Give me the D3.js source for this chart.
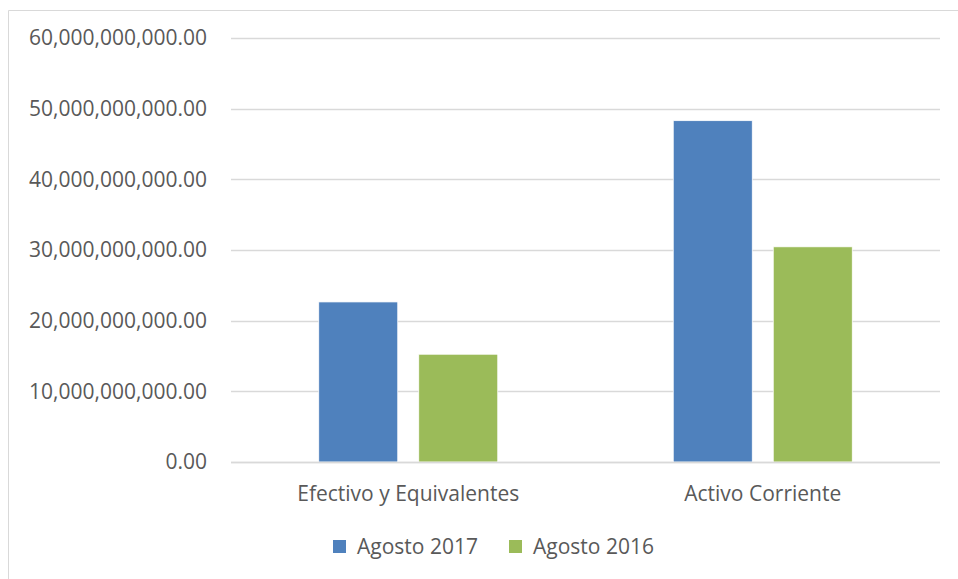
<!DOCTYPE html>
<html>
<head>
<meta charset="utf-8">
<script src="https://cdn.jsdelivr.net/npm/d3@7"></script>
<style>
  body { margin: 0; background: #fff; }
  text { font-family: "Open Sans", sans-serif; fill: #595959; }
</style>
</head>
<body>
<svg id="chart" width="958" height="579"></svg>
<script>
// data
const categories = ["Efectivo y Equivalentes", "Activo Corriente"];
const seriesNames = ["Agosto 2017", "Agosto 2016"];
const agosto2017 = [22650000000, 48300000000];
const agosto2016 = [15250000000, 30450000000];
const yTicks = [0, 10e9, 20e9, 30e9, 40e9, 50e9, 60e9];
const colors = ["#4f81bd", "#9bbb59"];

const svg = d3.select("#chart");

// frame (only top and left edges show)
svg.append("line").attr("x1", 8.5).attr("x2", 958).attr("y1", 10.5).attr("y2", 10.5)
    .attr("stroke", "#d9d9d9");
svg.append("line").attr("x1", 8.5).attr("x2", 8.5).attr("y1", 10.5).attr("y2", 579)
    .attr("stroke", "#d9d9d9");

const margin = { left: 231, right: 940, top: 38, bottom: 462 };

const x = d3.scaleBand()
    .domain(categories)
    .range([margin.left, margin.right]);

const y = d3.scaleLinear()
    .domain([0, 60e9])
    .range([margin.bottom, margin.top]);

const fmt = d3.format(",.2f");
const fontSize = "21px";

// gridlines
svg.append("g").selectAll("line")
    .data(yTicks)
    .enter().append("line")
    .attr("x1", margin.left)
    .attr("x2", margin.right)
    .attr("y1", d => Math.round(y(d)) + 0.5)
    .attr("y2", d => Math.round(y(d)) + 0.5)
    .attr("stroke", "#d9d9d9")
    .attr("stroke-width", 1.5);

// y labels
svg.append("g").selectAll("text")
    .data(yTicks)
    .enter().append("text")
    .attr("x", 207)
    .attr("y", d => y(d))
    .attr("dy", "0.35em")
    .attr("text-anchor", "end")
    .style("font-size", fontSize)
    .text(d => fmt(d));

// bars
const barW = 79, gap = 21;
const series = [agosto2017, agosto2016];
series.forEach((vals, s) => {
    svg.append("g").selectAll("rect")
        .data(vals)
        .enter().append("rect")
        .attr("x", (d, i) => x(categories[i]) + x.bandwidth() / 2 - barW - gap / 2 + s * (barW + gap))
        .attr("y", d => y(d))
        .attr("width", barW)
        .attr("height", d => y(0) - y(d))
        .attr("fill", colors[s])
        .attr("stroke", "#fff")
        .attr("stroke-width", 0.75);
});

// baseline on top
svg.append("line")
    .attr("x1", margin.left).attr("x2", margin.right)
    .attr("y1", y(0) + 0.5).attr("y2", y(0) + 0.5)
    .attr("stroke", "#d9d9d9").attr("stroke-width", 1.5);

// category labels
svg.append("g").selectAll("text")
    .data(categories)
    .enter().append("text")
    .attr("x", d => x(d) + x.bandwidth() / 2)
    .attr("y", 494)
    .attr("dy", "0.35em")
    .attr("text-anchor", "middle")
    .style("font-size", fontSize)
    .text(d => d);

// legend
const legX = [333, 509];
const legend = svg.append("g").selectAll("g")
    .data(seriesNames)
    .enter().append("g");
legend.append("rect")
    .attr("x", (d, i) => legX[i])
    .attr("y", 540)
    .attr("width", 13)
    .attr("height", 13)
    .attr("fill", (d, i) => colors[i]);
legend.append("text")
    .attr("x", (d, i) => legX[i] + 24)
    .attr("y", 547)
    .attr("dy", "0.35em")
    .style("font-size", fontSize)
    .text(d => d);
</script>
</body>
</html>
